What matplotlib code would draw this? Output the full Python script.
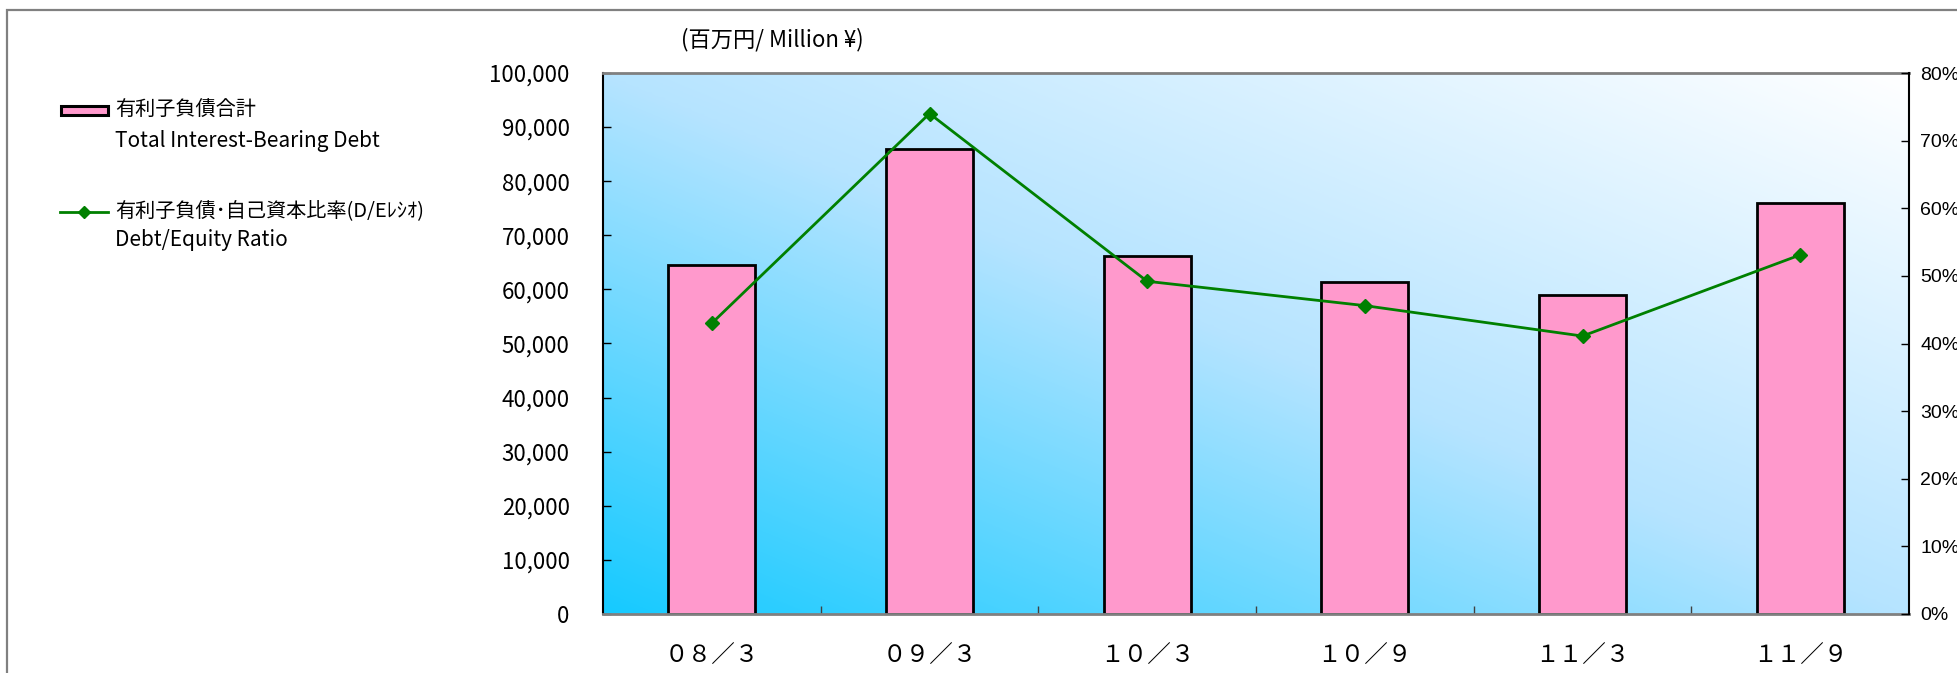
import numpy as np
import matplotlib
matplotlib.use("Agg")
import matplotlib.pyplot as plt
from matplotlib.colors import LinearSegmentedColormap
from matplotlib.patches import Rectangle
from matplotlib.lines import Line2D
from matplotlib.ticker import FuncFormatter, FixedLocator
from matplotlib import font_manager

plt.rcParams['font.family'] = ['Noto Sans CJK JP', 'DejaVu Sans']

# ---- data ----
categories = ["０８／３", "０９／３", "１０／３", "１０／９", "１１／３", "１１／９"]
debt = [64500, 86000, 66200, 61400, 59000, 76000]          # 百万円
de_ratio = [43.0, 74.0, 49.2, 45.6, 41.1, 53.1]             # %
left_ticks = [0, 10000, 20000, 30000, 40000, 50000, 60000, 70000, 80000, 90000, 100000]
right_ticks = [0, 10, 20, 30, 40, 50, 60, 70, 80]
legend_bar_jp = "有利子負債合計"
legend_bar_en = "Total Interest-Bearing Debt"
legend_line_jp = "有利子負債･自己資本比率(D/Eﾚｼｵ)"
legend_line_en = "Debt/Equity Ratio"
unit_label = "(百万円/ Million ¥)"

W, H = 1957, 673
fig = plt.figure(figsize=(W / 100, H / 100), dpi=100)

# overlay in pixel coordinates for frame / legend / unit label
ov = fig.add_axes([0, 0, 1, 1], zorder=0)
ov.set_xlim(0, W)
ov.set_ylim(H, 0)
ov.axis('off')
ov.plot([7, 7, W + 5], [H + 5, 10, 10], color='#808080', lw=1.6, solid_joinstyle='miter')

# ---- main axes ----
l, r, t, b = 603, 1909, 73, 614
ax = fig.add_axes([l / W, (H - b) / H, (r - l) / W, (b - t) / H], zorder=1)
ax.set_facecolor('none')

# gradient background
n = 400
xx, yy = np.meshgrid(np.linspace(0, 1, n), np.linspace(0, 1, n))
grad = (xx + yy) / 2
cmap = LinearSegmentedColormap.from_list(
    'bg', [(0.0, '#16CAFF'), (0.5, '#B6E4FF'), (1.0, '#FFFFFF')])
ax.imshow(grad, cmap=cmap, origin='lower', extent=[0, 1, 0, 1],
          transform=ax.transAxes, aspect='auto', zorder=0, interpolation='bilinear')

x = np.arange(len(categories))
bars = ax.bar(x, debt, width=0.4, color='#FF99CC', edgecolor='black', linewidth=2.0, zorder=2)
ax.set_xlim(-0.5, len(categories) - 0.5)
ax.set_ylim(0, 100000)
ax.set_yticks(left_ticks)
ax.yaxis.set_major_formatter(FuncFormatter(lambda v, p: f"{int(v):,}"))
ax.set_xticks(x)
ax.set_xticklabels(categories)
ax.xaxis.set_minor_locator(FixedLocator(np.arange(0.5, len(categories) - 0.5, 1.0)))
ax.tick_params(axis='x', which='major', length=0, pad=22, labelsize=17)
ax.tick_params(axis='x', which='minor', direction='in', length=6, width=1, color='#404040')
ax.tick_params(axis='y', direction='in', length=6, width=1, pad=24, labelsize=16)
for s in ['top', 'bottom']:
    ax.spines[s].set_color('#808080')
    ax.spines[s].set_linewidth(2)
ax.spines['left'].set_color('black')
ax.spines['left'].set_linewidth(1.5)
ax.spines['right'].set_visible(False)

ax2 = ax.twinx()
ax2.set_ylim(0, 80)
ax2.set_yticks(right_ticks)
ax2.yaxis.set_major_formatter(FuncFormatter(lambda v, p: f"{int(v)}%"))
line, = ax2.plot(x, de_ratio, color='#008000', lw=2, marker='D', markersize=7.5, zorder=3)
ax2.tick_params(axis='y', direction='in', length=6, width=1, pad=8, labelsize=14)
installed = {f.name for f in font_manager.fontManager.ttflist}
right_family = ['Liberation Sans Narrow'] if 'Liberation Sans Narrow' in installed else ['Liberation Sans']
for lab in ax2.get_yticklabels():
    lab.set_family(right_family + ['DejaVu Sans'])
ax2.spines['right'].set_color('black')
ax2.spines['right'].set_linewidth(1.5)
for s in ['top', 'bottom', 'left']:
    ax2.spines[s].set_visible(False)

# unit label
ov.text(772, 40, unit_label, ha='center', va='center', fontsize=16)

# legend (manual)
ov.add_patch(Rectangle((61, 106), 47, 9, facecolor='#FF99CC', edgecolor='black', lw=2.2))
ov.text(115, 110, legend_bar_jp, ha='left', va='center', fontsize=14.5)
ov.text(115, 141, legend_bar_en, ha='left', va='center', fontsize=15)
ov.add_line(Line2D([60, 108], [212, 212], color='#008000', lw=2))
ov.plot([84], [212], marker='D', color='#008000', markersize=6)
ov.text(115, 212, legend_line_jp, ha='left', va='center', fontsize=14.5)
ov.text(115, 240, legend_line_en, ha='left', va='center', fontsize=15)

fig.savefig('out.png', dpi=100)
